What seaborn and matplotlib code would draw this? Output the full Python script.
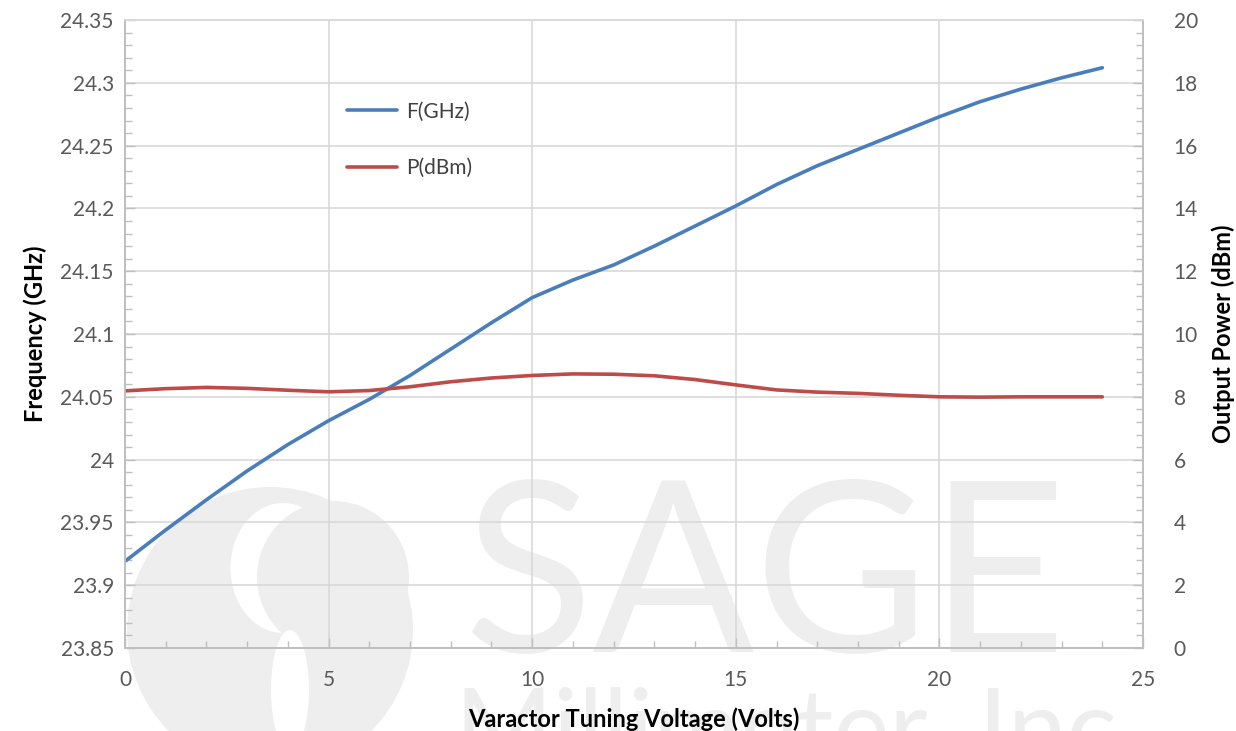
import matplotlib
matplotlib.use("Agg")
import matplotlib.pyplot as plt
import seaborn as sns
import pandas as pd
from matplotlib.ticker import MultipleLocator
from matplotlib.patches import Ellipse, Circle

# Values
voltage = list(range(0, 25))
freq_ghz = [23.919, 23.944, 23.968, 23.991, 24.012, 24.031, 24.048, 24.067,
            24.088, 24.109, 24.129, 24.143, 24.155, 24.170, 24.186, 24.202,
            24.219, 24.234, 24.247, 24.260, 24.273, 24.285, 24.295, 24.304,
            24.312]
power_dbm = [8.19, 8.26, 8.30, 8.27, 8.21, 8.16, 8.20, 8.32, 8.48, 8.60,
             8.68, 8.73, 8.72, 8.67, 8.55, 8.38, 8.22, 8.15, 8.11, 8.05,
             8.00, 7.99, 8.00, 8.00, 8.00]

df = pd.DataFrame({"V": voltage, "F": freq_ghz, "P": power_dbm})

sns.set_theme(style="white")
plt.rcParams['font.family'] = ['Lato', 'DejaVu Sans']

fig = plt.figure(figsize=(12.36, 7.31), dpi=100)

# faint company watermark on a background layer (pixel coordinates)
wm = "#eeeeee"
bg = fig.add_axes([0, 0, 1, 1], zorder=-1)
bg.set_xlim(0, 1236)
bg.set_ylim(731, 0)
bg.axis("off")
bg.add_patch(Circle((270, 630), 143, facecolor=wm, edgecolor="none"))
bg.add_patch(Ellipse((283, 568), 105, 130, facecolor="white", edgecolor="none"))
bg.add_patch(Circle((333, 577), 76, facecolor=wm, edgecolor="none"))
bg.add_patch(Ellipse((290, 690), 38, 120, facecolor="white", edgecolor="none"))
bg.text(765, 652, "SAGE", fontsize=172, color=wm, ha="center", va="baseline")
bg.text(455, 765, "Millimeter, Inc.", fontsize=76, color=wm, ha="left",
        va="baseline")

ax = fig.add_axes([0.1011, 0.1135, 0.8237, 0.8591], zorder=1)
ax.set_facecolor("none")
ax2 = ax.twinx()
ax2.set_facecolor("none")

blue = "#4a7ebb"
red = "#be4b48"
sns.lineplot(data=df, x="V", y="F", ax=ax, color=blue, linewidth=2.6,
             label="F(GHz)", legend=False)
sns.lineplot(data=df, x="V", y="P", ax=ax2, color=red, linewidth=2.6,
             label="P(dBm)", legend=False)

ax.set_xlim(0, 25)
ax2.set_ylim(0, 20)
ax.xaxis.set_major_locator(MultipleLocator(5))
ax.xaxis.set_minor_locator(MultipleLocator(1))
yt = [23.85, 23.9, 23.95, 24.0, 24.05, 24.1, 24.15, 24.2, 24.25, 24.3, 24.35]
ax.set_yticks(yt)
ax.set_yticklabels([f"{t:g}" for t in yt])
ax.yaxis.set_minor_locator(MultipleLocator(0.01))
ax.set_ylim(23.85, 24.35)
ax2.yaxis.set_major_locator(MultipleLocator(2))
ax2.yaxis.set_minor_locator(MultipleLocator(0.4))

ax.grid(True, which="major", color="#d9d9d9", linewidth=1.2)
ax.set_axisbelow(True)
for a in (ax, ax2):
    for s in a.spines.values():
        s.set_color("#bfbfbf")
        s.set_linewidth(1.2)
    a.spines["top"].set_color("#d9d9d9")
    a.tick_params(which="both", direction="in", color="#bfbfbf",
                  labelcolor="#595959", labelsize=15)
    a.tick_params(which="major", length=7, width=1)
    a.tick_params(which="minor", length=5, width=1)
ax.tick_params(axis="x", pad=16)
ax.tick_params(axis="y", which="both", left=True, right=False, pad=8)
ax2.tick_params(axis="y", which="both", right=True, left=False, pad=22)
ax.tick_params(axis="x", which="both", bottom=True)

ax.set_xlabel("Varactor Tuning Voltage (Volts)", fontsize=17,
              fontweight="bold", color="black", labelpad=12)
ax.set_ylabel("Frequency (GHz)", fontsize=17, fontweight="bold",
              color="black", labelpad=10)
ax2.set_ylabel("Output Power (dBm)", fontsize=17, fontweight="bold",
               color="black", labelpad=10)

h1, l1 = ax.get_legend_handles_labels()
h2, l2 = ax2.get_legend_handles_labels()
leg = ax.legend(h1 + h2, l1 + l2, loc="upper left",
                bbox_to_anchor=(0.2, 0.9), frameon=False, fontsize=15,
                handlelength=2.4, labelspacing=1.75, handletextpad=0.4)
for t in leg.get_texts():
    t.set_color("#404040")

fig.savefig("out.png", dpi=100)
